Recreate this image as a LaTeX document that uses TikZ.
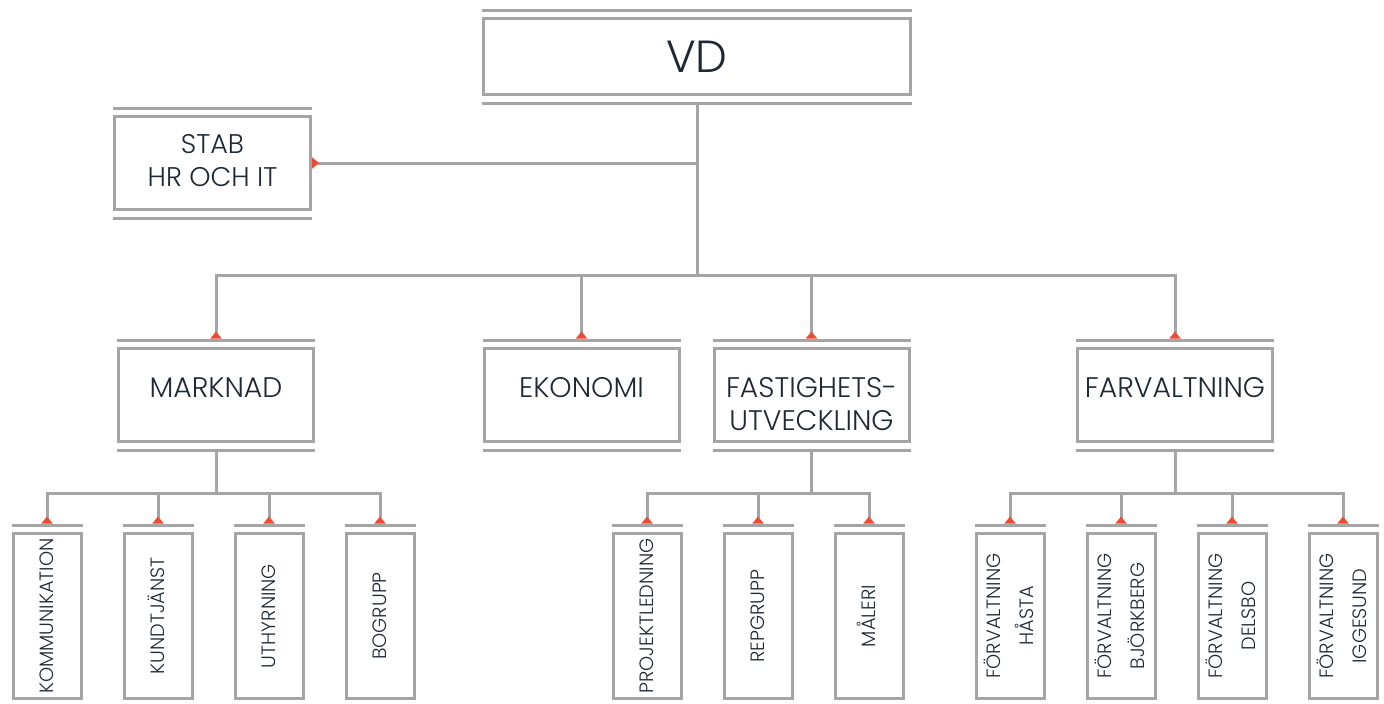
\documentclass[tikz,border=0pt]{standalone}
\usepackage{fontspec}
\setmainfont{Poppins}[UprightFont=* Light]
\usepackage{graphicx}
\usepackage{tikz}
\usetikzlibrary{arrows.meta, positioning}
\definecolor{linegray}{HTML}{A5A5A5}
\definecolor{textnavy}{HTML}{1E2935}
\definecolor{tipred}{HTML}{F04A32}
\tikzstyle{unit} = [draw=linegray, line width=3pt, fill=white, text=textnavy, inner sep=0pt, align=center]
\tikzstyle{rule} = [draw=linegray, line width=3pt]
\tikzstyle{link} = [draw=linegray, line width=3pt, -{Triangle[reversed, width=11pt, length=7pt, color=tipred]}]
\newcommand{\vlabel}[1]{\rotatebox{90}{\begin{tabular}{@{}c@{}}#1\end{tabular}}}

\begin{document}
\begin{tikzpicture}[x=1pt, y=-1pt, node distance=40pt,
    dept/.style={unit, minimum width=195pt, minimum height=93pt, font=\fontsize{28.3}{33}\selectfont, text height=20pt, text depth=16pt},
    leaf/.style={unit, minimum width=68pt, minimum height=165pt, font=\fontsize{19.3}{33}\selectfont}]
    \useasboundingbox (0,0) rectangle (1384,704);
    % top
    \node[unit, minimum width=427pt, minimum height=76pt, font=\fontsize{45}{50}\selectfont] (vd) at (697,56.5) {VD};
    \node[unit, minimum width=196pt, minimum height=93pt, font=\fontsize{27}{33}\selectfont] (stab) at (212.5,163) {\begin{tabular}{@{}c@{}}STAB\\HR OCH IT\end{tabular}};
    % departments
    \node[dept] (mark) at (216,395) {MARKNAD};
    \node[dept] (eko) at (581.5,395) {EKONOMI};
    \node[dept] (fast) at (811.5,395) {\begin{tabular}[t]{@{}c@{}}FASTIGHETS-\\UTVECKLING\end{tabular}};
    \node[dept] (far) at (1175,395) {FARVALTNING};
    % groups
    \node[leaf] (kom) at (47,616) {\vlabel{KOMMUNIKATION}};
    \node[leaf, right=of kom] (kund) {\vlabel{KUNDTJÄNST}};
    \node[leaf, right=of kund] (uth) {\vlabel{UTHYRNING}};
    \node[leaf, right=of uth] (bog) {\vlabel{BOGRUPP}};
    \node[leaf] (proj) at (647,616) {\vlabel{PROJEKTLEDNING}};
    \node[leaf, right=of proj] (rep) {\vlabel{REPGRUPP}};
    \node[leaf, right=of rep] (mal) {\vlabel{MÅLERI}};
    \node[leaf] (fh) at (1010,616) {\vlabel{FÖRVALTNING\\HÅSTA}};
    \node[leaf, right=of fh] (fb) {\vlabel{FÖRVALTNING\\BJÖRKBERG}};
    \node[leaf, right=of fb] (fd) {\vlabel{FÖRVALTNING\\DELSBO}};
    \node[leaf, right=of fd] (fi) {\vlabel{FÖRVALTNING\\IGGESUND}};
    % double rules
    \foreach \n in {vd,stab,mark,eko,fast,far} {
        \draw[rule] ([yshift=7pt]\n.north west) -- ([yshift=7pt]\n.north east);
        \draw[rule] ([yshift=-7pt]\n.south west) -- ([yshift=-7pt]\n.south east);
    }
    \foreach \n in {kom,kund,uth,bog,proj,rep,mal,fh,fb,fd,fi}
        \draw[rule] ([yshift=7pt]\n.north west) -- ([yshift=7pt]\n.north east);
    % connectors
    \coordinate (bus) at (697,275);
    \coordinate (mbus) at (216,493);
    \coordinate (fbus) at (811.5,493);
    \coordinate (rbus) at (1175,493);
    \draw[link] (vd.south |- stab.east) -- (stab.east);
    \foreach \n in {mark,eko,fast,far}
        \draw[link] ([yshift=-8.5pt]vd.south) -- (vd.south |- bus) -| ([yshift=8.5pt]\n.north);
    \foreach \n in {kom,kund,uth,bog}
        \draw[link] ([yshift=-8.5pt]mark.south) -- (mark.south |- mbus) -| ([yshift=8.5pt]\n.north);
    \foreach \n in {proj,rep,mal}
        \draw[link] ([yshift=-8.5pt]fast.south) -- (fast.south |- fbus) -| ([yshift=8.5pt]\n.north);
    \foreach \n in {fh,fb,fd,fi}
        \draw[link] ([yshift=-8.5pt]far.south) -- (far.south |- rbus) -| ([yshift=8.5pt]\n.north);
\end{tikzpicture}
\end{document}
